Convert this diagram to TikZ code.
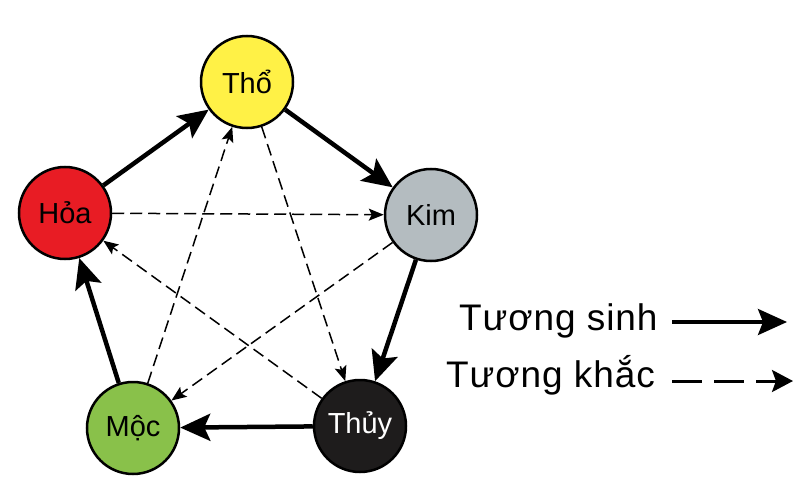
\documentclass[tikz,border=0pt]{standalone}
\usepackage{fontspec}
\setmainfont{Liberation Sans}
\usetikzlibrary{arrows.meta}
\definecolor{tho}{RGB}{255,241,70}
\definecolor{kim}{RGB}{180,188,192}
\definecolor{hoa}{RGB}{232,28,36}
\definecolor{moc}{RGB}{137,193,74}
\definecolor{thuy}{RGB}{30,28,28}
\tikzset{
  hanh/.style={circle, draw=black, line width=2.5pt, minimum size=92pt, inner sep=0pt,
    font=\fontsize{29}{34}\selectfont},
  sinh/.style={line width=4.5pt, -{Stealth[length=30pt,width=27pt,inset=6pt]}},
  khac/.style={line width=1.5pt, dash pattern=on 12pt off 6pt, -{Stealth[length=15pt,width=12pt,inset=3pt]}},
  chu/.style={anchor=base west, inner sep=0pt, font=\fontsize{37}{42}\selectfont\addfontfeature{LetterSpace=2.5}}
}

\begin{document}
\begin{tikzpicture}[x=1pt, y=-1pt]
	\useasboundingbox (0,0) rectangle (800,500);

	\node[hanh, fill=tho]  (tho)  at (247,82)  {Thổ};
	\node[hanh, fill=kim]  (kim)  at (431,215) {Kim};
	\node[hanh, fill=hoa]  (hoa)  at (65,213)  {Hỏa};
	\node[hanh, fill=moc]  (moc)  at (133,428) {Mộc};
	\node[hanh, fill=thuy, text=white] (thuy) at (360,426) {Thủy};

	\draw[sinh] (hoa) -- (tho);
	\draw[sinh] (tho) -- (kim);
	\draw[sinh] (kim) -- (thuy);
	\draw[sinh] (thuy) -- (moc);
	\draw[sinh] (moc) -- (hoa);

	\draw[khac] (hoa) -- (kim);
	\draw[khac] (tho) -- (thuy);
	\draw[khac] (kim) -- (moc);
	\draw[khac] (thuy) -- (hoa);
	\draw[khac] (moc) -- (tho);

	\node[chu] (sinhtxt) at (459,330) {Tương sinh};
	\coordinate (sinhstart) at (672,322);
	\coordinate (sinhend) at (787,322);
	\draw[line width=3.5pt, -{Stealth[length=29pt,width=26pt,inset=5pt]}] (sinhstart) -- (sinhend);

	\node[chu] (khactxt) at (446,387) {Tương khắc};
	\coordinate (khacstart) at (672,381);
	\coordinate (khacend) at (793,381);
	\draw[line width=3pt, dash pattern=on 30pt off 12pt, -{Stealth[length=21pt,width=22pt,inset=4pt]}] (khacstart) -- (khacend);
\end{tikzpicture}
\end{document}
